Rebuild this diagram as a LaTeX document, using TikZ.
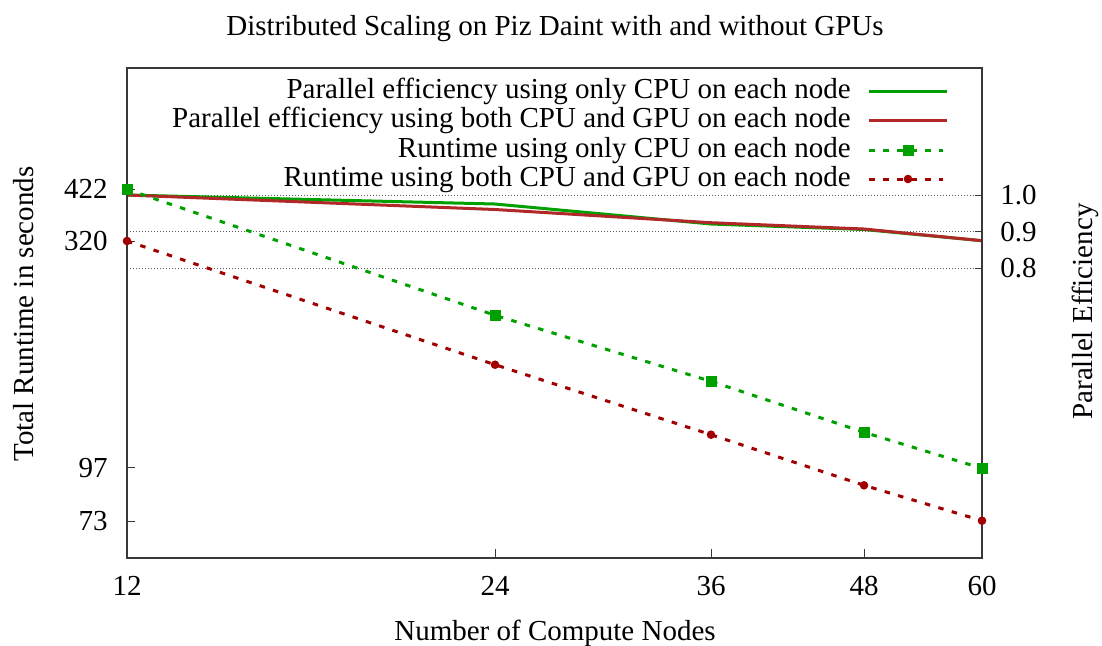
\documentclass[tikz,border=0pt]{standalone}
\usepackage{fontspec}
\setmainfont{Liberation Serif}
\definecolor{cpugreen}{HTML}{00A000}
\definecolor{gpured}{HTML}{A00000}
\definecolor{effred}{HTML}{B02828}
\definecolor{axisgray}{HTML}{383838}
\begin{document}
\begin{tikzpicture}[x=0.5pt,y=-0.5pt,
  font=\fontsize{14.5}{17}\selectfont,
  frame/.style={draw=axisgray, line width=1pt},
  tickmark/.style={draw=axisgray, line width=0.5pt},
  gridline/.style={draw=black!65, line width=0.5pt, dash pattern=on 0.5pt off 1pt},
  effcpu/.style={draw=cpugreen, line width=1.5pt, line join=round},
  effgpu/.style={draw=effred, line width=1.5pt, line join=round},
  runcpu/.style={draw=cpugreen, line width=1.5pt, dash pattern=on 2.75pt off 4.25pt},
  rungpu/.style={draw=gpured, line width=1.5pt, dash pattern=on 2.75pt off 4.25pt},
  sqmark/.style={rectangle, fill=cpugreen, minimum size=5.5pt, inner sep=0pt},
  dotmark/.style={circle, fill=gpured, minimum size=4.3pt, inner sep=0pt},
  lbl/.style={inner sep=0pt, anchor=base},
  ylbl/.style={inner sep=0pt, anchor=base east},
  y2lbl/.style={inner sep=0pt, anchor=base west},
  keytext/.style={inner sep=0pt, anchor=base east}]

% page
\path[use as bounding box, fill=white] (0,0) rectangle (1102,645);

% plot area corners
\coordinate (tl) at (127,68);
\coordinate (br) at (982,558);

% grid lines of the efficiency axis
\foreach \gy/\gn in {195/g1,231.5/g2,268/g3}{
  \coordinate (\gn l) at (127,\gy);
  \coordinate (\gn r) at (982,\gy);
  \draw[gridline] (\gn l) -- (\gn r);
  \draw[tickmark] (\gn r) -- ++(-7,0);
}

% runtime axis ticks
\foreach \ty in {189.3,241,467.5,521}{
  \coordinate (lt) at (127,\ty);
  \draw[tickmark] (lt) -- ++(8,0);
}
% node count ticks
\foreach \tx in {495,711,864}{
  \coordinate (bt) at (\tx,558);
  \draw[tickmark] (bt) -- ++(0,-9);
}

% efficiency data
\coordinate (ec1) at (127,195);
\coordinate (ec2) at (495,204);
\coordinate (ec3) at (711,224);
\coordinate (ec4) at (864,229.5);
\coordinate (ec5) at (982,240.7);
\coordinate (eg1) at (127,195);
\coordinate (eg2) at (495,209.5);
\coordinate (eg3) at (711,222.7);
\coordinate (eg4) at (864,229);
\coordinate (eg5) at (982,240.7);

% runtime data
\coordinate (rc1) at (127,189.3);
\coordinate (rc2) at (495,315.3);
\coordinate (rc3) at (711,381.3);
\coordinate (rc4) at (864,432.3);
\coordinate (rc5) at (982,468.3);
\coordinate (rg1) at (127,241);
\coordinate (rg2) at (495,364.7);
\coordinate (rg3) at (711,434.7);
\coordinate (rg4) at (864,485.3);
\coordinate (rg5) at (982,520.7);

\draw[effcpu] (ec1) -- (ec2) -- (ec3) -- (ec4) -- (ec5);
\draw[effgpu] (eg1) -- (eg2) -- (eg3) -- (eg4) -- (eg5);
\draw[runcpu] (rc1) -- (rc2) -- (rc3) -- (rc4) -- (rc5);
\draw[rungpu] (rg1) -- (rg2) -- (rg3) -- (rg4) -- (rg5);

% frame
\draw[frame] (tl) rectangle (br);

% markers
\foreach \i in {1,...,5}{
  \node[sqmark] (mc\i) at (rc\i) {};
  \node[dotmark] (mg\i) at (rg\i) {};
}

% key
\node[keytext] (k1) at (851,98) {Parallel efficiency using only CPU on each node};
\node[keytext] (k2) at (851,127.5) {Parallel efficiency using both CPU and GPU on each node};
\node[keytext] (k3) at (851,157) {Runtime using only CPU on each node};
\node[keytext] (k4) at (851,186.5) {Runtime using both CPU and GPU on each node};
\coordinate (k1a) at (869,91);   \coordinate (k1b) at (947,91);
\coordinate (k2a) at (869,120.5); \coordinate (k2b) at (947,120.5);
\coordinate (k3a) at (869,150);  \coordinate (k3b) at (943,150);
\coordinate (k4a) at (869,179);  \coordinate (k4b) at (943,179);
\draw[effcpu] (k1a) -- (k1b);
\draw[effgpu] (k2a) -- (k2b);
\draw[runcpu] (k3a) -- (k3b);
\draw[rungpu] (k4a) -- (k4b);
\node[sqmark] (k3m) at (908,150) {};
\node[dotmark] (k4m) at (908,179) {};

% tick labels
\node[ylbl] (y422) at (108,198.8) {422};
\node[ylbl] (y320) at (108,250.5) {320};
\node[ylbl] (y97) at (108,477) {97};
\node[ylbl] (y73) at (108,530.5) {73};
\node[y2lbl] (e10) at (1000,204.5) {1.0};
\node[y2lbl] (e09) at (1000,241) {0.9};
\node[y2lbl] (e08) at (1000,277.5) {0.8};
\node[lbl] (x12) at (127,595) {12};
\node[lbl] (x24) at (495,595) {24};
\node[lbl] (x36) at (711,595) {36};
\node[lbl] (x48) at (864,595) {48};
\node[lbl] (x60) at (982,595) {60};

% titles
\node[lbl] (title) at (555,35) {Distributed Scaling on Piz Daint with and without GPUs};
\node[lbl] (xlabel) at (555,640) {Number of Compute Nodes};
\node[lbl, rotate=90] (ylabel) at (33,314) {Total Runtime in seconds};
\node[lbl, rotate=90] (y2label) at (1092,311.5) {Parallel Efficiency};
\end{tikzpicture}
\end{document}
